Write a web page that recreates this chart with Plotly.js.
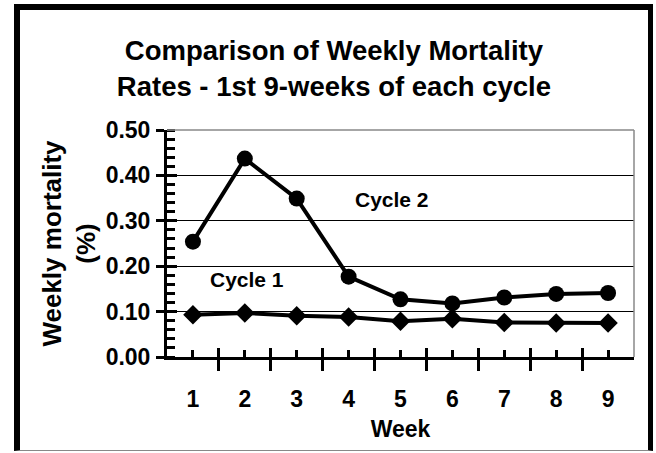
<!DOCTYPE html>
<html>
<head>
<meta charset="utf-8">
<script src="https://cdn.plot.ly/plotly-3.0.1.min.js"></script>
<style>
  html, body { margin: 0; padding: 0; background: #fff; }
  #wrap { position: relative; width: 656px; height: 453px; overflow: hidden; }
  #chart { position: absolute; left: 0; top: 0; width: 656px; height: 453px; }
  #frame { position: absolute; left: 14px; top: 4px; width: 639px; height: 447px; box-sizing: border-box;
           border-left: 6px solid #000; border-top: 6px solid #000; border-right: 5px solid #000; border-bottom: 1px solid #888; pointer-events: none; }
</style>
</head>
<body>
<div id="wrap"><div id="chart"></div><div id="frame"></div></div>
<script>
const weeks = [1, 2, 3, 4, 5, 6, 7, 8, 9];
const weekLabels = ['1', '2', '3', '4', '5', '6', '7', '8', '9'];
const cycle1 = [0.093, 0.097, 0.091, 0.088, 0.079, 0.084, 0.076, 0.075, 0.075];
const cycle2 = [0.254, 0.437, 0.349, 0.177, 0.127, 0.118, 0.131, 0.139, 0.141];
const yTicks = [0, 0.1, 0.2, 0.3, 0.4, 0.5];
const weekBounds = [0.5, 1.5, 2.5, 3.5, 4.5, 5.5, 6.5, 7.5, 8.5, 9.5];

const F = 'Liberation Sans, Arial, sans-serif';

const traces = [
  { x: weeks, y: cycle1, name: 'Cycle 1', mode: 'lines+markers', type: 'scatter',
    line: { color: '#000', width: 4 }, marker: { symbol: 'diamond', size: 15, color: '#000' } },
  { x: weeks, y: cycle2, name: 'Cycle 2', mode: 'lines+markers', type: 'scatter',
    line: { color: '#000', width: 4 }, marker: { symbol: 'circle', size: 16, color: '#000' } },
  { x: [], y: [], xaxis: 'x2', yaxis: 'y2', type: 'scatter', mode: 'lines', showlegend: false, hoverinfo: 'skip' }
];

const layout = {
  width: 656, height: 453,
  margin: { l: 167, r: 22, t: 130, b: 96, pad: 0 },
  paper_bgcolor: '#fff', plot_bgcolor: '#fff',
  showlegend: false,
  font: { family: F, color: '#000', weight: 700 },
  title: { text: 'Comparison of Weekly Mortality<br>Rates - 1st 9-weeks of each cycle',
           font: { family: F, size: 27.5, weight: 700, color: '#000' },
           x: 0.509, xanchor: 'center', y: 0.868, yanchor: 'middle' },
  xaxis: {
    range: [0.5, 9.5], tickmode: 'array', tickvals: weeks, ticktext: weekLabels,
    ticks: 'inside', ticklen: 7, tickwidth: 3, tickcolor: '#000',
    showline: true, linewidth: 3, linecolor: '#000', showgrid: false, zeroline: false,
    tickfont: { family: F, size: 23, weight: 700 }, ticklabelstandoff: 19,
    minor: { tickmode: 'array', tickvals: weekBounds, ticks: 'outside', ticklen: 11, tickwidth: 3, tickcolor: '#000', showgrid: false },
    title: { text: 'Week', font: { family: F, size: 23, weight: 700 }, standoff: 11 }
  },
  xaxis2: {
    overlaying: 'x', matches: 'x', range: [0.5, 9.5], tickmode: 'array', tickvals: weekBounds,
    ticks: 'inside', ticklen: 9, tickwidth: 3, tickcolor: '#000',
    showticklabels: false, showline: false, showgrid: false, zeroline: false
  },
  yaxis: {
    range: [0, 0.5], tickmode: 'array', tickvals: yTicks, tickformat: '.2f',
    ticks: 'outside', ticklen: 8, tickwidth: 3, tickcolor: '#000',
    showline: true, linewidth: 3, linecolor: '#000',
    showgrid: true, gridcolor: '#000', gridwidth: 1, zeroline: false,
    tickfont: { family: F, size: 23, weight: 700 }, ticklabelstandoff: 1,
    minor: { dtick: 0.02, tick0: 0, ticks: 'inside', ticklen: 8, tickwidth: 3, tickcolor: '#000', showgrid: false },
    title: { text: 'Weekly mortality<br>(%)', font: { family: F, size: 26, weight: 700 }, standoff: 3 }
  },
  yaxis2: {
    overlaying: 'y', matches: 'y', range: [0, 0.5], tickmode: 'array', tickvals: yTicks,
    ticks: 'inside', ticklen: 10, tickwidth: 3, tickcolor: '#000',
    showticklabels: false, showline: false, showgrid: false, zeroline: false
  },
  shapes: [
    { type: 'line', xref: 'x domain', yref: 'y domain', x0: 0, x1: 1, y0: 1, y1: 1, line: { color: '#888', width: 1.5 }, layer: 'above' },
    { type: 'line', xref: 'x domain', yref: 'y domain', x0: 1, x1: 1, y0: 0, y1: 1, line: { color: '#888', width: 1.5 }, layer: 'above' }
  ],
  annotations: [
    { text: 'Cycle 2', x: 4.84, y: 0.346, xref: 'x', yref: 'y', showarrow: false,
      font: { family: F, size: 21, weight: 700, color: '#000' } },
    { text: 'Cycle 1', x: 2.04, y: 0.170, xref: 'x', yref: 'y', showarrow: false,
      font: { family: F, size: 21, weight: 700, color: '#000' } }
  ]
};

Plotly.newPlot('chart', traces, layout, { displayModeBar: false, staticPlot: true });
</script>
</body>
</html>
